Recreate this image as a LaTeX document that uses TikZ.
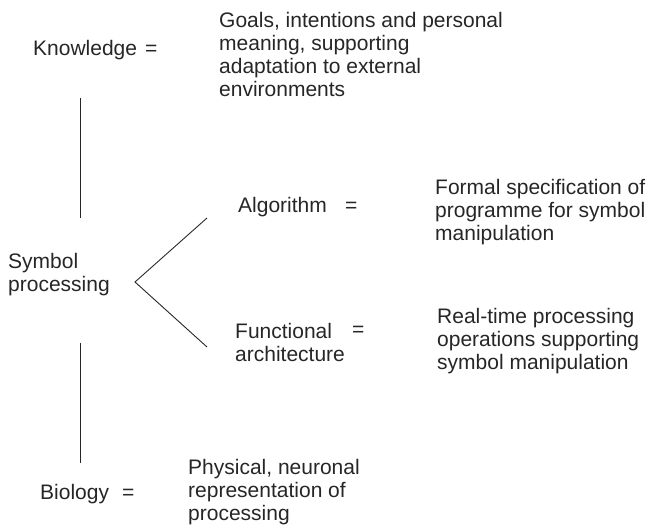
\documentclass[tikz,border=0pt]{standalone}
\usepackage{fontspec}
\setmainfont{Liberation Sans}
\begin{document}
\begin{tikzpicture}[x=1pt,y=-1pt,
  lbl/.style={inner sep=0pt, anchor=west, align=left, font=\fontsize{21}{23}\selectfont, text=black!85},
  conn/.style={line width=0.9pt, black!85}]
\useasboundingbox (0,0) rectangle (649,527);
% left column
\node[lbl] (know) at (33,50) {Knowledge};
\node[lbl] (keq) at (145,50) {=};
\node[lbl] (sym) at (8,275) {Symbol\\processing};
\node[lbl] (bio) at (40,494) {Biology};
\node[lbl] (beq) at (122,494) {=};
% descriptions
\node[lbl] (kdesc) at (219,54) {Goals, intentions and personal\\meaning, supporting\\adaptation to external\\environments};
\node[lbl] (alg) at (238,207) {Algorithm};
\node[lbl] (aeq) at (345,207) {=};
\node[lbl] (adesc) at (435,212) {Formal specification of\\programme for symbol\\manipulation};
\node[lbl] (fun) at (235,342) {Functional\\architecture};
\node[lbl] (feq) at (352,331) {=};
\node[lbl] (fdesc) at (437,341) {Real-time processing\\operations supporting\\symbol manipulation};
\node[lbl] (bdesc) at (188,492) {Physical, neuronal\\representation of\\processing};
% connectors
\coordinate (v1a) at (80,98);
\coordinate (v1b) at (80,218);
\coordinate (v2a) at (80,343);
\coordinate (v2b) at (80,463);
\coordinate (apex) at (135,282);
\coordinate (up) at (207,218);
\coordinate (dn) at (207,347);
\draw[conn] (v1a) -- (v1b);
\draw[conn] (v2a) -- (v2b);
\draw[conn] (up) -- (apex) -- (dn);
\end{tikzpicture}
\end{document}
